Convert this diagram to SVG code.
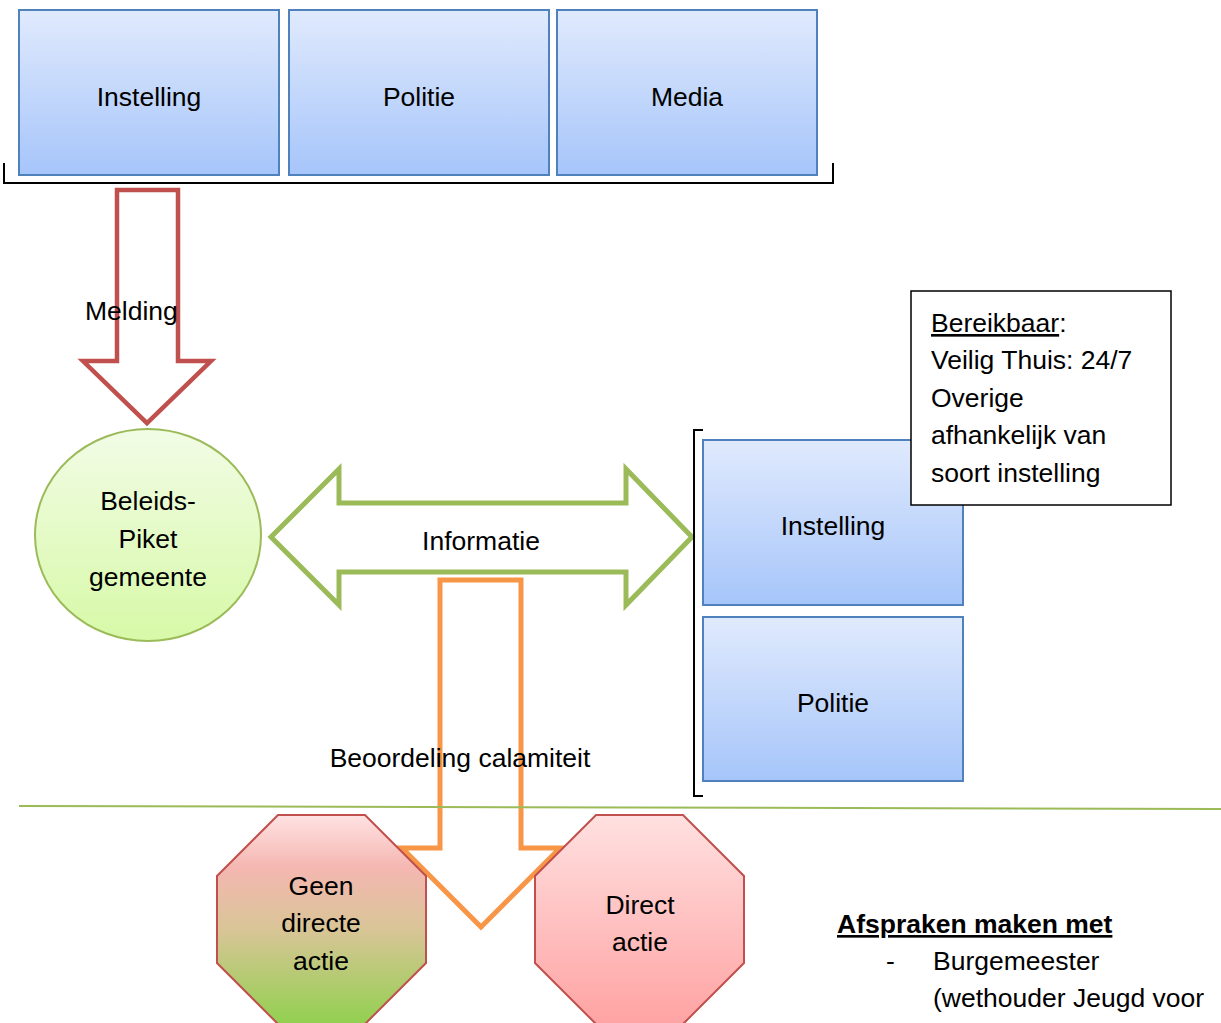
<svg xmlns="http://www.w3.org/2000/svg" width="1221" height="1023" viewBox="0 0 1221 1023">
<style>
text{font-family:"Liberation Sans",Arial,sans-serif;font-size:26.5px;fill:#000}
.c{text-anchor:middle}
.box{fill:url(#blue);stroke:#4f81bd;stroke-width:2}
.oct{stroke:#c0504d;stroke-width:2}
.br{fill:none;stroke:#000;stroke-width:2}
</style>
<defs>
<linearGradient id="blue" x1="0" y1="0" x2="0" y2="1"><stop offset="0" stop-color="#e0eafd"/><stop offset="1" stop-color="#a6c5fa"/></linearGradient>
<linearGradient id="green" x1="0" y1="0" x2="0" y2="1"><stop offset="0" stop-color="#f2fce6"/><stop offset="1" stop-color="#d7f9a7"/></linearGradient>
<linearGradient id="geen" x1="0" y1="0" x2="0" y2="1"><stop offset="0" stop-color="#ffe2e2"/><stop offset="0.25" stop-color="#f5b7b2"/><stop offset="0.55" stop-color="#d8c596"/><stop offset="1" stop-color="#92d050"/></linearGradient>
<linearGradient id="pink" x1="0" y1="0" x2="0" y2="1"><stop offset="0" stop-color="#ffe0e0"/><stop offset="1" stop-color="#ffa3a3"/></linearGradient>
</defs>

<g id="top-instelling"><rect class="box" x="19" y="10" width="260" height="165"/><text class="c" x="149" y="106">Instelling</text></g>
<g id="top-politie"><rect class="box" x="289" y="10" width="260" height="165"/><text class="c" x="419" y="106">Politie</text></g>
<g id="top-media"><rect class="box" x="557" y="10" width="260" height="165"/><text class="c" x="687" y="106">Media</text></g>
<path class="br" d="M4,163 V183 H833 V163"/>

<g id="connectors">
<path d="M117,190 H178 V361 H211 L147,423 L83,361 H117 Z" fill="#fff" stroke="#c0504d" stroke-width="4.5"/>
<path d="M271,537 L339,469 V503 H626 V469 L692,537 L626,605 V572 H339 V605 Z" fill="#fff" stroke="#9bbb59" stroke-width="5"/>
<path d="M440,580 H521 V848 H560 L481,927 L402,848 H440 Z" fill="#fff" stroke="#f79646" stroke-width="5"/>
<line x1="19" y1="806" x2="1221" y2="809" stroke="#9bbb59" stroke-width="2"/>
</g>
<text x="85" y="320">Melding</text>
<text class="c" x="481" y="550">Informatie</text>
<text class="c" x="460" y="767">Beoordeling calamiteit</text>

<g id="piket"><ellipse cx="148" cy="535" rx="113" ry="106" fill="url(#green)" stroke="#9bbb59" stroke-width="2"/>
<text class="c" x="148" y="510">Beleids-</text><text class="c" x="148" y="548">Piket</text><text class="c" x="148" y="586">gemeente</text></g>

<path class="br" d="M703,430 H694 V796 H703"/>
<g id="r-instelling"><rect class="box" x="703" y="440" width="260" height="165"/><text class="c" x="833" y="535">Instelling</text></g>
<g id="r-politie"><rect class="box" x="703" y="617" width="260" height="164"/><text class="c" x="833" y="712">Politie</text></g>

<g id="bereikbaar"><rect x="911" y="291" width="260" height="214" fill="#fff" stroke="#000" stroke-width="1.5"/>
<text x="931" y="332"><tspan text-decoration="underline">Bereikbaar</tspan>:</text>
<text x="931" y="369">Veilig Thuis: 24/7</text>
<text x="931" y="407">Overige</text>
<text x="931" y="444">afhankelijk van</text>
<text x="931" y="482">soort instelling</text></g>

<g id="geen"><polygon class="oct" fill="url(#geen)" points="278,815 365,815 426,876 426,963 365,1024 278,1024 217,963 217,876"/>
<text class="c" x="321" y="895">Geen</text><text class="c" x="321" y="932">directe</text><text class="c" x="321" y="970">actie</text></g>
<g id="direct"><polygon class="oct" fill="url(#pink)" points="596,815 683,815 744,876 744,963 683,1024 596,1024 535,963 535,876"/>
<text class="c" x="640" y="914">Direct</text><text class="c" x="640" y="951">actie</text></g>

<g id="afspraken">
<text x="837" y="933" font-weight="bold" text-decoration="underline">Afspraken maken met</text>
<text x="886" y="970">-</text>
<text x="933" y="970">Burgemeester</text>
<text x="933" y="1007">(wethouder Jeugd voor</text>
</g>
</svg>
